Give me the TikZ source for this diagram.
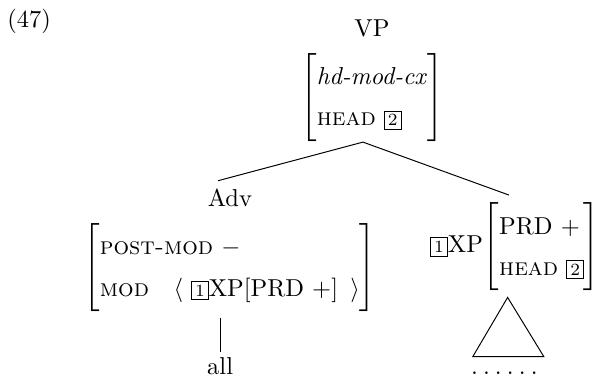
\documentclass[tikz,border=0pt]{standalone}
\usetikzlibrary{positioning}

\newcommand{\boxnum}[1]{{\setlength{\fboxsep}{1.2pt}\fbox{\scriptsize #1}}}
\newcommand{\fstruct}[1]{$\renewcommand{\arraystretch}{1.4}\left[\begin{tabular}{@{}l@{}}#1\end{tabular}\right]$}

\begin{document}
\begin{tikzpicture}[avm/.style={inner sep=0pt},node distance=1cm]
\useasboundingbox (0,0) rectangle (8.57,-5.43);

\node[anchor=base west]   (exnum) at (-0.02,-0.39)   {(47)};
\node[anchor=base]   (vp) at (5.34,-0.53)   {VP};
\node[avm]   (vpavm)[below of=vp,node distance=0.98cm]   {\fstruct{\textit{hd-mod-cx}\\ \textsc{head} \boxnum{2}}};
\coordinate (top) at (5.21,-2.04);

\node[anchor=base]   (adv) at (3.30,-2.97)   {Adv};
\node[avm]   (advavm)[below of=adv,node distance=0.99cm]   {\fstruct{\textsc{post-mod} $-$\\ \textsc{mod} \enskip\,$\langle$ \boxnum{1}XP[PRD $+$]\, $\rangle$}};
\node[anchor=base,inner sep=2pt]   (all) at (3.16,-5.38)   {all};

\node[avm,anchor=west]   (xp) at (6.17,-3.54)   {\boxnum{1}XP\fstruct{PRD $+$\\ \textsc{head} \boxnum{2}}};
\node[anchor=base]   (dots) at (7.24,-5.38)   {.\kern2.1pt.\kern2.1pt.\kern2.1pt.\kern2.1pt.\kern2.1pt.};

% branches
\draw (top) -- ([xshift=-0.17cm]adv.north);
\draw (top) -- ([xshift=-0.09cm,yshift=0.1cm]xp.north);
\draw[shorten >=0.09cm] (all.north) -- (all.north |- advavm.south);

% triangle
\draw ([xshift=-0.11cm,yshift=-0.09cm]xp.south) -- ++(-0.5,-0.85) -- ++(1.02,0) -- cycle;

\end{tikzpicture}
\end{document}
